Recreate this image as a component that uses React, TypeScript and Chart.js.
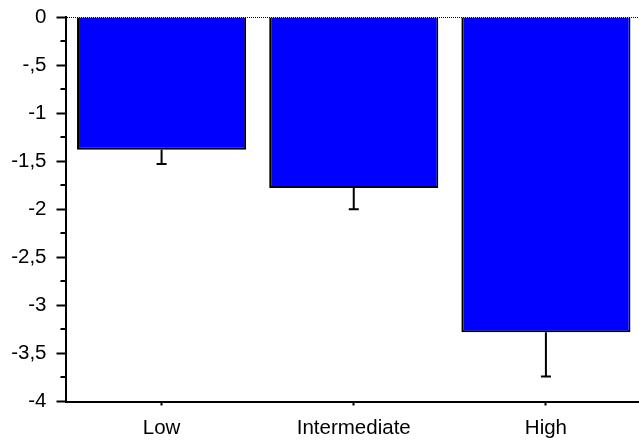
import React, { useEffect, useRef } from "react";
import { Chart, registerables } from "chart.js";

Chart.register(...registerables);

const categories = ["Low", "Intermediate", "High"];
const means = [-1.38, -1.78, -3.28];
const errorEnds = [-1.53, -2.0, -3.74];
const yTickValues = [0, -0.5, -1, -1.5, -2, -2.5, -3, -3.5, -4];
const yTickLabels = ["0", "-,5", "-1", "-1,5", "-2", "-2,5", "-3", "-3,5", "-4"];

const FONT = "'Liberation Sans', Arial, Helvetica, sans-serif";

const extrasPlugin = {
  id: "extras",
  afterDatasetsDraw(chart: any) {
    const { ctx, chartArea, scales } = chart;
    const y = scales.y;
    const meta = chart.getDatasetMeta(0);
    ctx.save();
    // error bars
    ctx.strokeStyle = "#000";
    ctx.lineWidth = 2;
    meta.data.forEach((bar: any, i: number) => {
      const x = bar.x;
      const y0 = y.getPixelForValue(means[i]);
      const y1 = y.getPixelForValue(errorEnds[i]);
      ctx.beginPath();
      ctx.moveTo(x, y0);
      ctx.lineTo(x, y1);
      ctx.moveTo(x - 5, y1);
      ctx.lineTo(x + 5, y1);
      ctx.stroke();
    });
    // dotted zero line
    const yz = Math.round(y.getPixelForValue(0)) + 0.5;
    ctx.lineWidth = 1;
    ctx.setLineDash([1, 1]);
    ctx.beginPath();
    ctx.moveTo(Math.round(chartArea.left) + 1, yz);
    ctx.lineTo(chartArea.right, yz);
    ctx.stroke();
    ctx.setLineDash([]);
    // minor ticks on y axis
    ctx.lineWidth = 2;
    for (let v = y.max - 0.25; v > y.min; v -= 0.5) {
      const py = Math.round(y.getPixelForValue(v));
      ctx.beginPath();
      ctx.moveTo(chartArea.left - 5, py);
      ctx.lineTo(chartArea.left, py);
      ctx.stroke();
    }
    ctx.restore();
  },
};

export default function App() {
  const ref = useRef<HTMLCanvasElement | null>(null);
  useEffect(() => {
    document.body.style.overflow = "hidden";
    const chart = new Chart(ref.current as HTMLCanvasElement, {
      type: "bar",
      data: {
        labels: categories,
        datasets: [
          {
            data: means,
            backgroundColor: "#0000FF",
            borderColor: "#000000",
            borderWidth: 2,
            barPercentage: 0.88,
            categoryPercentage: 1,
          },
        ],
      },
      options: {
        responsive: false,
        animation: false,
        devicePixelRatio: 1,
        layout: { padding: { top: 17, bottom: 5.5, left: 0, right: 0 } },
        plugins: { legend: { display: false }, tooltip: { enabled: false } },
        scales: {
          x: {
            afterFit(scale: any) {
              scale.height = 39;
              scale.paddingLeft = 0;
              scale.paddingRight = 0;
            },
            grid: {
              display: true,
              drawOnChartArea: false,
              drawTicks: true,
              tickLength: 4,
              tickColor: "#000",
              tickWidth: 2,
              offset: false,
            },
            border: { display: true, color: "#000", width: 2 },
            ticks: {
              color: "#000",
              padding: 11,
              font: { family: FONT, size: 20.5 },
            },
          },
          y: {
            min: -4,
            max: 0,
            afterFit(scale: any) {
              scale.width = 65.5;
              scale.paddingTop = 0;
              scale.paddingBottom = 0;
            },
            afterBuildTicks(scale: any) {
              scale.ticks = yTickValues.map((v) => ({ value: v }));
            },
            grid: {
              display: true,
              drawOnChartArea: false,
              drawTicks: true,
              tickLength: 9,
              tickColor: "#000",
              tickWidth: 2,
            },
            border: { display: true, color: "#000", width: 2 },
            ticks: {
              color: "#000",
              padding: 10,
              font: { family: FONT, size: 20.5 },
              callback: (value: any) => {
                const idx = yTickValues.findIndex((v) => Math.abs(v - Number(value)) < 1e-9);
                return idx >= 0 ? yTickLabels[idx] : "";
              },
            },
          },
        },
      },
      plugins: [extrasPlugin],
    });
    return () => chart.destroy();
  }, []);
  return (
    <div style={{ position: "fixed", left: 0, top: 0, width: 642, height: 446 }}>
      <canvas ref={ref} width={642} height={446} style={{ display: "block" }} />
    </div>
  );
}
